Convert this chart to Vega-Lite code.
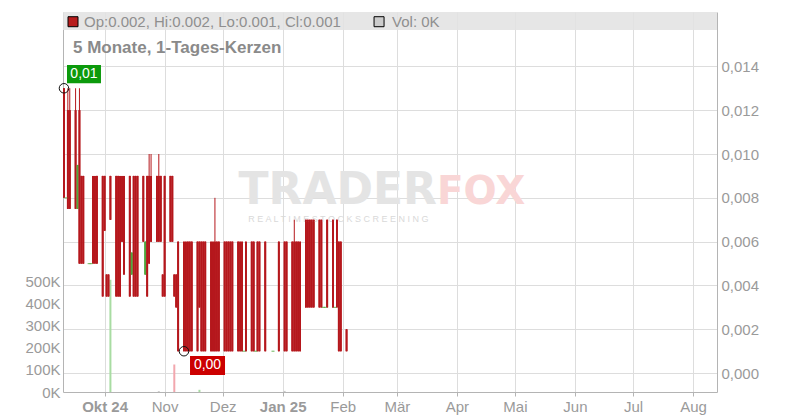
{
  "$schema": "https://vega.github.io/schema/vega-lite/v6.json",
  "width": 654,
  "height": 380,
  "autosize": {"type": "none"},
  "padding": {"left": 63, "top": 12, "right": 83, "bottom": 28},
  "background": "white",
  "config": {
    "view": {"stroke": null},
    "font": "Liberation Sans",
    "axis": {"labelFont": "Liberation Sans", "labelFontSize": 15, "labelColor": "#9a9a9a", "domainColor": "#b4b4b4", "tickColor": "#b4b4b4", "gridColor": "#dddddd"}
  },
  "datasets": {
    "candles": [
      {"d":"2024-09-10","o":0.013,"h":0.013,"l":0.008,"c":0.008},
      {"d":"2024-09-11","o":0.008,"h":0.008,"l":0.008,"c":0.008},
      {"d":"2024-09-12","o":0.012,"h":0.013,"l":0.0075,"c":0.0075},
      {"d":"2024-09-13","o":0.012,"h":0.013,"l":0.0075,"c":0.0075},
      {"d":"2024-09-16","o":0.012,"h":0.013,"l":0.0075,"c":0.0075},
      {"d":"2024-09-17","o":0.0075,"h":0.0095,"l":0.0075,"c":0.0095},
      {"d":"2024-09-18","o":0.012,"h":0.013,"l":0.005,"c":0.005},
      {"d":"2024-09-19","o":0.009,"h":0.009,"l":0.005,"c":0.005},
      {"d":"2024-09-20","o":0.009,"h":0.009,"l":0.005,"c":0.005},
      {"d":"2024-09-23","o":0.005,"h":0.005,"l":0.005,"c":0.005},
      {"d":"2024-09-24","o":0.005,"h":0.005,"l":0.005,"c":0.005},
      {"d":"2024-09-25","o":0.009,"h":0.009,"l":0.005,"c":0.005},
      {"d":"2024-09-26","o":0.009,"h":0.009,"l":0.005,"c":0.005},
      {"d":"2024-09-27","o":0.009,"h":0.009,"l":0.005,"c":0.005},
      {"d":"2024-09-30","o":0.009,"h":0.009,"l":0.0035,"c":0.0035},
      {"d":"2024-10-01","o":0.009,"h":0.009,"l":0.0065,"c":0.0065},
      {"d":"2024-10-02","o":0.0045,"h":0.0045,"l":0.0035,"c":0.0035},
      {"d":"2024-10-03","o":0.0045,"h":0.0045,"l":0.0035,"c":0.0035},
      {"d":"2024-10-04","o":0.009,"h":0.009,"l":0.007,"c":0.007},
      {"d":"2024-10-07","o":0.009,"h":0.009,"l":0.0035,"c":0.0035},
      {"d":"2024-10-08","o":0.009,"h":0.009,"l":0.0035,"c":0.0035},
      {"d":"2024-10-09","o":0.009,"h":0.009,"l":0.0035,"c":0.0035},
      {"d":"2024-10-10","o":0.009,"h":0.009,"l":0.006,"c":0.006},
      {"d":"2024-10-11","o":0.009,"h":0.009,"l":0.0045,"c":0.0045},
      {"d":"2024-10-14","o":0.009,"h":0.009,"l":0.0035,"c":0.0035},
      {"d":"2024-10-15","o":0.0045,"h":0.0055,"l":0.0045,"c":0.0055},
      {"d":"2024-10-16","o":0.009,"h":0.009,"l":0.0035,"c":0.0035},
      {"d":"2024-10-17","o":0.009,"h":0.009,"l":0.0035,"c":0.0035},
      {"d":"2024-10-18","o":0.009,"h":0.009,"l":0.0035,"c":0.0035},
      {"d":"2024-10-21","o":0.009,"h":0.009,"l":0.006,"c":0.006},
      {"d":"2024-10-22","o":0.0045,"h":0.006,"l":0.0045,"c":0.006},
      {"d":"2024-10-23","o":0.009,"h":0.009,"l":0.0035,"c":0.0035},
      {"d":"2024-10-24","o":0.009,"h":0.010,"l":0.005,"c":0.005},
      {"d":"2024-10-25","o":0.009,"h":0.010,"l":0.006,"c":0.006},
      {"d":"2024-10-28","o":0.009,"h":0.009,"l":0.006,"c":0.006},
      {"d":"2024-10-29","o":0.009,"h":0.010,"l":0.006,"c":0.006},
      {"d":"2024-10-30","o":0.009,"h":0.009,"l":0.006,"c":0.006},
      {"d":"2024-10-31","o":0.0045,"h":0.0045,"l":0.0035,"c":0.0035},
      {"d":"2024-11-01","o":0.009,"h":0.009,"l":0.0035,"c":0.0035},
      {"d":"2024-11-04","o":0.009,"h":0.009,"l":0.006,"c":0.006},
      {"d":"2024-11-05","o":0.009,"h":0.009,"l":0.006,"c":0.006},
      {"d":"2024-11-06","o":0.0045,"h":0.0045,"l":0.0035,"c":0.0035},
      {"d":"2024-11-07","o":0.0045,"h":0.0045,"l":0.003,"c":0.003},
      {"d":"2024-11-08","o":0.006,"h":0.006,"l":0.001,"c":0.001},
      {"d":"2024-11-11","o":0.006,"h":0.006,"l":0.001,"c":0.001},
      {"d":"2024-11-12","o":0.006,"h":0.006,"l":0.001,"c":0.001},
      {"d":"2024-11-13","o":0.006,"h":0.006,"l":0.001,"c":0.001},
      {"d":"2024-11-14","o":0.006,"h":0.006,"l":0.001,"c":0.001},
      {"d":"2024-11-15","o":0.006,"h":0.006,"l":0.001,"c":0.001},
      {"d":"2024-11-18","o":0.006,"h":0.006,"l":0.001,"c":0.001},
      {"d":"2024-11-19","o":0.006,"h":0.006,"l":0.003,"c":0.003},
      {"d":"2024-11-20","o":0.006,"h":0.006,"l":0.001,"c":0.001},
      {"d":"2024-11-21","o":0.006,"h":0.006,"l":0.001,"c":0.001},
      {"d":"2024-11-22","o":0.006,"h":0.006,"l":0.001,"c":0.001},
      {"d":"2024-11-25","o":0.006,"h":0.006,"l":0.001,"c":0.001},
      {"d":"2024-11-26","o":0.006,"h":0.006,"l":0.001,"c":0.001},
      {"d":"2024-11-27","o":0.006,"h":0.008,"l":0.001,"c":0.001},
      {"d":"2024-11-28","o":0.006,"h":0.006,"l":0.001,"c":0.001},
      {"d":"2024-11-29","o":0.006,"h":0.006,"l":0.001,"c":0.001},
      {"d":"2024-12-02","o":0.006,"h":0.006,"l":0.001,"c":0.001},
      {"d":"2024-12-03","o":0.006,"h":0.006,"l":0.001,"c":0.001},
      {"d":"2024-12-04","o":0.006,"h":0.006,"l":0.001,"c":0.001},
      {"d":"2024-12-05","o":0.006,"h":0.006,"l":0.001,"c":0.001},
      {"d":"2024-12-06","o":0.006,"h":0.006,"l":0.001,"c":0.001},
      {"d":"2024-12-09","o":0.006,"h":0.006,"l":0.001,"c":0.001},
      {"d":"2024-12-10","o":0.006,"h":0.006,"l":0.001,"c":0.001},
      {"d":"2024-12-11","o":0.006,"h":0.006,"l":0.001,"c":0.001},
      {"d":"2024-12-12","o":0.001,"h":0.001,"l":0.001,"c":0.001},
      {"d":"2024-12-13","o":0.006,"h":0.006,"l":0.001,"c":0.001},
      {"d":"2024-12-16","o":0.006,"h":0.006,"l":0.001,"c":0.001},
      {"d":"2024-12-17","o":0.006,"h":0.006,"l":0.001,"c":0.001},
      {"d":"2024-12-18","o":0.001,"h":0.001,"l":0.001,"c":0.001},
      {"d":"2024-12-19","o":0.006,"h":0.006,"l":0.001,"c":0.001},
      {"d":"2024-12-20","o":0.006,"h":0.006,"l":0.001,"c":0.001},
      {"d":"2024-12-23","o":0.006,"h":0.006,"l":0.001,"c":0.001},
      {"d":"2024-12-27","o":0.001,"h":0.001,"l":0.001,"c":0.001},
      {"d":"2024-12-30","o":0.006,"h":0.006,"l":0.001,"c":0.001},
      {"d":"2025-01-02","o":0.006,"h":0.006,"l":0.001,"c":0.001},
      {"d":"2025-01-03","o":0.006,"h":0.006,"l":0.001,"c":0.001},
      {"d":"2025-01-06","o":0.006,"h":0.006,"l":0.001,"c":0.001},
      {"d":"2025-01-07","o":0.006,"h":0.007,"l":0.001,"c":0.001},
      {"d":"2025-01-08","o":0.006,"h":0.006,"l":0.001,"c":0.001},
      {"d":"2025-01-09","o":0.006,"h":0.006,"l":0.001,"c":0.001},
      {"d":"2025-01-10","o":0.006,"h":0.006,"l":0.001,"c":0.001},
      {"d":"2025-01-13","o":0.007,"h":0.007,"l":0.003,"c":0.003},
      {"d":"2025-01-14","o":0.007,"h":0.007,"l":0.003,"c":0.003},
      {"d":"2025-01-15","o":0.007,"h":0.007,"l":0.003,"c":0.003},
      {"d":"2025-01-16","o":0.007,"h":0.007,"l":0.003,"c":0.003},
      {"d":"2025-01-17","o":0.007,"h":0.007,"l":0.003,"c":0.003},
      {"d":"2025-01-20","o":0.007,"h":0.007,"l":0.003,"c":0.003},
      {"d":"2025-01-21","o":0.007,"h":0.007,"l":0.003,"c":0.003},
      {"d":"2025-01-22","o":0.003,"h":0.003,"l":0.003,"c":0.003},
      {"d":"2025-01-23","o":0.003,"h":0.003,"l":0.003,"c":0.003},
      {"d":"2025-01-24","o":0.007,"h":0.007,"l":0.003,"c":0.003},
      {"d":"2025-01-27","o":0.007,"h":0.007,"l":0.003,"c":0.003},
      {"d":"2025-01-28","o":0.003,"h":0.003,"l":0.003,"c":0.003},
      {"d":"2025-01-29","o":0.007,"h":0.007,"l":0.003,"c":0.003},
      {"d":"2025-01-30","o":0.006,"h":0.006,"l":0.001,"c":0.001},
      {"d":"2025-01-31","o":0.006,"h":0.006,"l":0.001,"c":0.001},
      {"d":"2025-02-03","o":0.002,"h":0.002,"l":0.001,"c":0.001}
    ],
    "vol": [
      {"d":"2024-10-04","v":510000,"dir":"up"},
      {"d":"2024-10-29","v":4000,"dir":"flat"},
      {"d":"2024-11-06","v":125000,"dir":"down"},
      {"d":"2024-11-19","v":10000,"dir":"up"},
      {"d":"2025-01-02","v":5000,"dir":"flat"}
    ]
  },
  "layer": [
    {
      "data": {"name": "vol"},
      "mark": {"type": "bar", "width": 2},
      "encoding": {
        "x": {
          "field": "d", "type": "temporal", "title": null,
          "scale": {"type": "utc", "nice": false, "padding": 0, "domain": [{"year":2024,"month":9,"date":9,"hours":12,"utc":true},{"year":2025,"month":8,"date":13,"hours":9,"minutes":36,"utc":true}]},
          "axis": {
            "title": null,
            "values": [
              {"year":2024,"month":10,"date":1,"utc":true},
              {"year":2024,"month":11,"date":1,"utc":true},
              {"year":2024,"month":12,"date":1,"utc":true},
              {"year":2025,"month":1,"date":1,"utc":true},
              {"year":2025,"month":2,"date":1,"utc":true},
              {"year":2025,"month":3,"date":1,"utc":true},
              {"year":2025,"month":4,"date":1,"utc":true},
              {"year":2025,"month":5,"date":1,"utc":true},
              {"year":2025,"month":6,"date":1,"utc":true},
              {"year":2025,"month":7,"date":1,"utc":true},
              {"year":2025,"month":8,"date":1,"utc":true}
            ],
            "labelExpr": "['Jan','Feb','Mär','Apr','Mai','Jun','Jul','Aug','Sep','Okt','Nov','Dez'][utcmonth(datum.value)] + ((utcmonth(datum.value) == 0 || utcmonth(datum.value) == 9) ? ' ' + utcFormat(datum.value, '%y') : '')",
            "labelFontWeight": {"condition": {"test": "utcmonth(datum.value) == 0 || utcmonth(datum.value) == 9", "value": "bold"}, "value": "normal"},
            "grid": true,
            "tickSize": 4,
            "labelPadding": 3,
            "labelOverlap": false,
            "labelFlush": false
          }
        },
        "y": {
          "field": "v", "type": "quantitative", "title": null,
          "scale": {"domain": [0, 1727000], "nice": false, "zero": true, "padding": 0},
          "axis": {"orient": "left", "title": null, "values": [0, 100000, 200000, 300000, 400000, 500000], "labelExpr": "format(datum.value / 1000, 'd') + 'K'", "grid": false, "ticks": false, "labelPadding": 3}
        },
        "color": {"field": "dir", "type": "nominal", "legend": null, "scale": {"domain": ["up", "down", "flat"], "range": ["#a8dca2", "#f2a7ae", "#c9c9c9"]}}
      }
    },
    {
      "layer": [
        {
          "data": {"name": "candles"},
          "mark": {"type": "bar", "width": 1.8},
          "encoding": {
            "x": {"field": "d", "type": "temporal", "title": null, "scale": {"type": "utc", "padding": 0}},
            "y": {
              "field": "o", "type": "quantitative", "title": null,
              "scale": {"domain": [-0.00086, 0.01648], "nice": false, "zero": false, "padding": 0},
              "axis": {"orient": "right", "title": null, "values": [0, 0.002, 0.004, 0.006, 0.008, 0.01, 0.012, 0.014], "labelExpr": "replace(format(datum.value, '.3f'), '.', ',')", "grid": true, "ticks": false, "labelPadding": 4}
            },
            "y2": {"field": "c"},
            "color": {"condition": {"test": "datum.c >= datum.o", "value": "#4fa83d"}, "value": "#b5171c"}
          }
        },
        {
          "data": {"values": [{}]},
          "mark": {"type": "text", "text": "TRADER", "font": "DejaVu Sans", "fontWeight": "bold", "fontSize": 44, "color": "#e4e4e4", "align": "right", "baseline": "alphabetic"},
          "encoding": {
            "x": {"datum": {"year":2025,"month":3,"date":21,"hours":17,"utc":true}, "type": "temporal", "title": null, "scale": {"type": "utc"}},
            "y": {"datum": 0.00772, "type": "quantitative", "title": null}
          }
        },
        {
          "data": {"values": [{}]},
          "mark": {"type": "text", "text": "FOX", "font": "DejaVu Sans", "fontWeight": "bold", "fontSize": 39, "color": "#f9d6d6", "align": "left", "baseline": "alphabetic"},
          "encoding": {
            "x": {"datum": {"year":2025,"month":3,"date":21,"hours":17,"utc":true}, "type": "temporal", "title": null, "scale": {"type": "utc"}},
            "y": {"datum": 0.00772, "type": "quantitative", "title": null}
          }
        },
        {
          "data": {"values": [{}]},
          "mark": {"type": "text", "text": "R E A L T I M E   S T O C K   S C R E E N I N G", "fontSize": 9, "color": "#d9d9d9", "align": "center", "baseline": "middle"},
          "encoding": {
            "x": {"datum": {"year":2025,"month":1,"date":29,"hours":19,"utc":true}, "type": "temporal", "title": null, "scale": {"type": "utc"}},
            "y": {"datum": 0.00703, "type": "quantitative", "title": null}
          }
        },
        {
          "data": {"name": "candles"},
          "mark": {"type": "rule", "strokeWidth": 1},
          "encoding": {
            "x": {"field": "d", "type": "temporal", "title": null, "scale": {"type": "utc"}},
            "y": {"field": "l", "type": "quantitative", "title": null},
            "y2": {"field": "h"},
            "color": {"condition": {"test": "datum.c >= datum.o", "value": "#4fa83d"}, "value": "#b5171c"}
          }
        },
        {
          "data": {"name": "candles"},
          "mark": {"type": "bar", "width": 1.8},
          "encoding": {
            "x": {"field": "d", "type": "temporal", "title": null, "scale": {"type": "utc"}},
            "y": {"field": "o", "type": "quantitative", "title": null},
            "y2": {"field": "c"},
            "color": {"condition": {"test": "datum.c >= datum.o", "value": "#4fa83d"}, "value": "#b5171c"}
          }
        },
        {
          "data": {"name": "candles"},
          "transform": [{"filter": "datum.o == datum.c"}],
          "mark": {"type": "tick", "orient": "horizontal", "size": 3, "thickness": 1.2, "color": "#4fa83d"},
          "encoding": {
            "x": {"field": "d", "type": "temporal", "title": null, "scale": {"type": "utc"}},
            "y": {"field": "c", "type": "quantitative", "title": null}
          }
        },
        {
          "data": {"values": [{}]},
          "mark": {"type": "rect", "color": "#e3e3e3", "opacity": 0.88},
          "encoding": {
            "y": {"datum": 0.01648, "type": "quantitative", "title": null},
            "y2": {"datum": 0.015659}
          }
        },
        {
          "data": {"values": [{}]},
          "mark": {"type": "point", "shape": "square", "size": 100, "filled": true, "fill": "#b71c1c", "stroke": "#000000", "strokeWidth": 1, "opacity": 1},
          "encoding": {
            "x": {"datum": {"year":2024,"month":9,"date":14,"hours":16,"utc":true}, "type": "temporal", "title": null, "scale": {"type": "utc"}},
            "y": {"datum": 0.016037, "type": "quantitative", "title": null}
          }
        },
        {
          "data": {"values": [{}]},
          "mark": {"type": "text", "text": "Op:0.002, Hi:0.002, Lo:0.001, Cl:0.001", "fontSize": 15, "color": "#8f8f8f", "align": "left", "baseline": "middle"},
          "encoding": {
            "x": {"datum": {"year":2024,"month":9,"date":20,"hours":8,"utc":true}, "type": "temporal", "title": null, "scale": {"type": "utc"}},
            "y": {"datum": 0.016037, "type": "quantitative", "title": null}
          }
        },
        {
          "data": {"values": [{}]},
          "mark": {"type": "point", "shape": "square", "size": 100, "filled": true, "fill": "#cccccc", "stroke": "#000000", "strokeWidth": 1, "opacity": 1},
          "encoding": {
            "x": {"datum": {"year":2025,"month":2,"date":19,"hours":19,"utc":true}, "type": "temporal", "title": null, "scale": {"type": "utc"}},
            "y": {"datum": 0.016037, "type": "quantitative", "title": null}
          }
        },
        {
          "data": {"values": [{}]},
          "mark": {"type": "text", "text": "Vol: 0K", "fontSize": 15, "color": "#8f8f8f", "align": "left", "baseline": "middle"},
          "encoding": {
            "x": {"datum": {"year":2025,"month":2,"date":26,"hours":12,"utc":true}, "type": "temporal", "title": null, "scale": {"type": "utc"}},
            "y": {"datum": 0.016037, "type": "quantitative", "title": null}
          }
        },
        {
          "data": {"values": [{}]},
          "mark": {"type": "text", "text": "5 Monate, 1-Tages-Kerzen", "fontSize": 17, "fontWeight": "bold", "color": "#8a8a8a", "align": "left", "baseline": "middle"},
          "encoding": {
            "x": {"datum": {"year":2024,"month":9,"date":14,"hours":16,"utc":true}, "type": "temporal", "title": null, "scale": {"type": "utc"}},
            "y": {"datum": 0.014837, "type": "quantitative", "title": null}
          }
        },
        {
          "data": {"values": [{}]},
          "mark": {"type": "point", "shape": "circle", "size": 90, "filled": false, "stroke": "#111111", "strokeWidth": 1, "opacity": 1},
          "encoding": {
            "x": {"datum": {"year":2024,"month":9,"date":10,"utc":true}, "type": "temporal", "title": null, "scale": {"type": "utc"}},
            "y": {"datum": 0.013, "type": "quantitative", "title": null}
          }
        },
        {
          "data": {"values": [{}]},
          "mark": {"type": "point", "shape": "circle", "size": 90, "filled": false, "stroke": "#111111", "strokeWidth": 1, "opacity": 1},
          "encoding": {
            "x": {"datum": {"year":2024,"month":11,"date":11,"utc":true}, "type": "temporal", "title": null, "scale": {"type": "utc"}},
            "y": {"datum": 0.001, "type": "quantitative", "title": null}
          }
        },
        {
          "data": {"values": [{}]},
          "mark": {"type": "rect", "color": "#0c9a0c"},
          "encoding": {
            "x": {"datum": {"year":2024,"month":9,"date":11,"hours":13,"minutes":40,"utc":true}, "type": "temporal", "title": null, "scale": {"type": "utc"}},
            "x2": {"datum": {"year":2024,"month":9,"date":29,"hours":3,"utc":true}},
            "y": {"datum": 0.014062, "type": "quantitative", "title": null},
            "y2": {"datum": 0.013227}
          }
        },
        {
          "data": {"values": [{}]},
          "mark": {"type": "text", "text": "0,01", "fontSize": 14, "color": "#ffffff", "align": "center", "baseline": "middle"},
          "encoding": {
            "x": {"datum": {"year":2024,"month":9,"date":20,"hours":8,"utc":true}, "type": "temporal", "title": null, "scale": {"type": "utc"}},
            "y": {"datum": 0.013651, "type": "quantitative", "title": null}
          }
        },
        {
          "data": {"values": [{}]},
          "mark": {"type": "rect", "color": "#cc0000"},
          "encoding": {
            "x": {"datum": {"year":2024,"month":11,"date":14,"hours":3,"utc":true}, "type": "temporal", "title": null, "scale": {"type": "utc"}},
            "x2": {"datum": {"year":2024,"month":12,"date":2,"hours":5,"utc":true}},
            "y": {"datum": 0.000783, "type": "quantitative", "title": null},
            "y2": {"datum": -0.000084}
          }
        },
        {
          "data": {"values": [{}]},
          "mark": {"type": "text", "text": "0,00", "fontSize": 14, "color": "#ffffff", "align": "center", "baseline": "middle"},
          "encoding": {
            "x": {"datum": {"year":2024,"month":11,"date":23,"hours":4,"utc":true}, "type": "temporal", "title": null, "scale": {"type": "utc"}},
            "y": {"datum": 0.00035, "type": "quantitative", "title": null}
          }
        }
      ]
    }
  ],
  "resolve": {"scale": {"y": "independent"}, "axis": {"y": "independent"}}
}
